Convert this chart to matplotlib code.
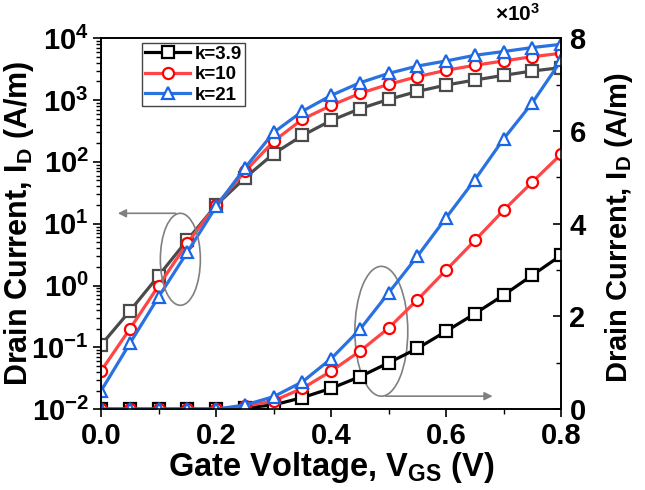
import matplotlib
matplotlib.use('Agg')
import matplotlib.pyplot as plt
from matplotlib.patches import Ellipse
from matplotlib.ticker import MultipleLocator, LogLocator, NullFormatter

#Fonts: Arial-like bold everywhere, mathtext too
plt.rcParams['font.family'] = 'Liberation Sans'
plt.rcParams['font.weight'] = 'bold'
plt.rcParams['mathtext.fontset'] = 'custom'
plt.rcParams['mathtext.rm'] = 'Liberation Sans:bold'
plt.rcParams['mathtext.bf'] = 'Liberation Sans:bold'
plt.rcParams['mathtext.it'] = 'Liberation Sans:bold'
plt.rcParams['mathtext.default'] = 'bf'

#%%
#Data
vgs = [0.0, 0.05, 0.1, 0.15, 0.2, 0.25, 0.3, 0.35, 0.4,
       0.45, 0.5, 0.55, 0.6, 0.65, 0.7, 0.75, 0.8]
labels = ['k=3.9', 'k=10', 'k=21']

# log-scale curves, A/m (left axis)
id_log_39 = [0.11, 0.39, 1.45, 5.5, 20, 55, 136, 267, 468,
             724, 1025, 1380, 1750, 2110, 2510, 2950, 3350]
id_log_10 = [0.042, 0.20, 1.0, 4.9, 20, 70, 216, 490, 818,
             1283, 1795, 2390, 3030, 3650, 4290, 5030, 5710]
id_log_21 = [0.020, 0.117, 0.66, 3.5, 19, 80, 300, 660, 1190,
             1905, 2700, 3550, 4290, 5300, 6090, 7070, 7980]

# linear curves, x1e3 A/m (right axis)
id_lin_39 = [0, 0, 0, 0, 0, 0.03, 0.09, 0.25, 0.45,
             0.70, 1.00, 1.31, 1.68, 2.06, 2.46, 2.89, 3.32]
id_lin_10 = [0, 0, 0, 0, 0, 0.06, 0.18, 0.45, 0.82,
             1.25, 1.75, 2.36, 3.00, 3.64, 4.29, 4.90, 5.50]
id_lin_21 = [0, 0, 0, 0, 0, 0.09, 0.27, 0.59, 1.09,
             1.72, 2.51, 3.30, 4.13, 4.95, 5.83, 6.61, 7.52]

#%%
fig = plt.figure(figsize=(6.45, 4.9), dpi=100)
ax = fig.add_axes([0.157, 0.165, 0.713, 0.757])
ax2 = ax.twinx()

log_styles = [('#4a4a4a', '#4a4a4a', 's'),
              ('#ff4545', '#ff0000', 'o'),
              ('#2a72e0', '#1a66e6', '^')]
lin_styles = [('#000000', '#000000', 's'),
              ('#ff4545', '#ff0000', 'o'),
              ('#2a72e0', '#1a66e6', '^')]

for y, (lc, mc, m) in zip([id_log_39, id_log_10, id_log_21], log_styles):
    ax.plot(vgs, y, color=lc, lw=2.3, marker=m, ms=8, mfc='white',
            mec=mc, mew=1.6)

handles = []
for y, lab, (lc, mc, m) in zip([id_lin_39, id_lin_10, id_lin_21], labels, lin_styles):
    h, = ax2.plot(vgs, y, color=lc, lw=2.3, marker=m, ms=8, mfc='white',
                  mec=mc, mew=1.6, label=lab)
    handles.append(h)

#Axes setup
ax.set_yscale('log')
ax.set_xlim(0, 0.8)
ax.set_ylim(1e-2, 1e4)
ax2.set_ylim(0, 8)

ax.xaxis.set_major_locator(MultipleLocator(0.2))
ax.xaxis.set_minor_locator(MultipleLocator(0.1))
ax.xaxis.set_major_formatter(plt.FuncFormatter(lambda v, p: f'{v:.1f}'))
ax.yaxis.set_major_locator(LogLocator(base=10, numticks=10))
ax.yaxis.set_minor_locator(LogLocator(base=10, subs=range(2, 10), numticks=20))
ax.yaxis.set_minor_formatter(NullFormatter())
ax2.yaxis.set_major_locator(MultipleLocator(2))
ax2.yaxis.set_minor_locator(MultipleLocator(1))

ax.tick_params(axis='both', which='major', direction='out', length=6, width=1.2,
               labelsize=21, top=False, pad=3)
ax.tick_params(axis='both', which='minor', direction='out', length=3.5, width=1.0, top=False)
ax2.tick_params(axis='y', which='major', direction='in', length=6, width=1.2,
                labelsize=21, pad=6)
ax2.tick_params(axis='y', which='minor', direction='in', length=3.5, width=1.0)

for a in (ax, ax2):
    for s in a.spines.values():
        s.set_linewidth(1.2)

ax.set_xlabel(r'Gate Voltage, V$_{GS}$ (V)', fontsize=23.5, fontweight='bold', labelpad=0)
ax.set_ylabel(r'Drain Current, I$_D$ (A/m)', fontsize=22, fontweight='bold')
ax2.set_ylabel(r'Drain Current, I$_D$ (A/m)', fontsize=21, fontweight='bold')
ax.yaxis.set_label_coords(-0.143, 0.5)
ax2.yaxis.set_label_coords(1.09, 0.49)
ax2.text(0.906, 1.065, r'$\times$10$^3$', transform=ax2.transAxes, fontsize=15,
         ha='center', va='center')

#Legend
leg = ax2.legend(handles=handles, loc='upper left', bbox_to_anchor=(0.089, 0.987),
                 borderaxespad=0, fancybox=False, framealpha=1, edgecolor='#444444',
                 prop={'weight': 'bold', 'size': 13.5}, handlelength=2.4,
                 labelspacing=0.17, borderpad=0.15, handletextpad=0.25)
leg.get_frame().set_linewidth(1.0)

#Ellipses and arrows pointing to the axes
ax2.add_patch(Ellipse((0.172, 0.404), 0.087, 0.248, transform=ax2.transAxes,
                      fill=False, ec='#808080', lw=1.2))
ax2.annotate('', xy=(0.030, 0.528), xytext=(0.168, 0.528), xycoords='axes fraction',
             arrowprops=dict(arrowstyle='-|>', color='#808080', lw=1.2, mutation_scale=12))
ax2.add_patch(Ellipse((0.609, 0.210), 0.115, 0.350, transform=ax2.transAxes,
                      fill=False, ec='#808080', lw=1.2))
ax2.annotate('', xy=(0.857, 0.035), xytext=(0.612, 0.035), xycoords='axes fraction',
             arrowprops=dict(arrowstyle='-|>', color='#808080', lw=1.2, mutation_scale=12))

fig.savefig('out.png', dpi=100)
